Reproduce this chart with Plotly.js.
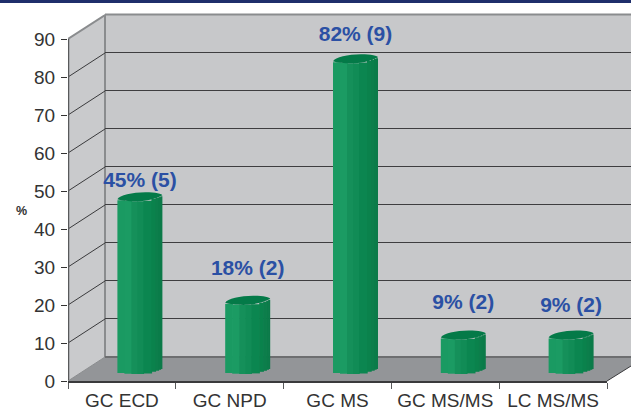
<!DOCTYPE html>
<html>
<head>
<meta charset="utf-8">
<script src="https://cdn.plot.ly/plotly-3.0.1.min.js"></script>
<style>html,body{margin:0;padding:0;background:#fff;overflow:hidden}</style>
</head>
<body>
<div id="chart" style="width:631px;height:411px"></div>
<script>
// Data
const categories = ['GC ECD', 'GC NPD', 'GC MS', 'GC MS/MS', 'LC MS/MS'];
const percentValues = [45.45, 18.2, 81.8, 9.1, 9.1];
const dataLabels = ['45% (5)', '18% (2)', '82% (9)', '9% (2)', '9% (2)'];
const labelHeights = [50.5, 27.4, 89, 18.4, 17.7];
const yTicks = [0, 10, 20, 30, 40, 50, 60, 70, 80, 90];

// Cylinder look: strip widths (px), colours and rise of each strip (px)
const stripWidths = [7, 7, 6, 6, 8, 4, 3, 2, 2];
const stripColors = ['#1a9a62', '#1b9b63', '#15905a', '#118c56', '#0b8650', '#0a824c', '#0c7e4b', '#0a7c49', '#0c7a49'];
const stripRise = [1.0, 0.3, 0, 0, 0.6, 2.2, 3.2, 4.2, 5];

const W = 631, H = 411;
const PX_PER_UNIT = 3.8, CAT_W = 107.8, BAR_W = 45;
const fx = p => p / W, fy = p => 1 - p / H;
const domX = (a, b) => [fx(a), fx(b)];
const domY = (bottom, top) => [fy(bottom), fy(top)];
const catPos = categories.map((_, i) => i);

const traces = [];
// Invisible trace so the back wall subplot draws its grid
traces.push({
  type: 'scatter', mode: 'markers', xaxis: 'x', yaxis: 'y', showlegend: false, hoverinfo: 'skip',
  x: [0.5], y: [45], marker: {opacity: 0}
});
// side wall grid lines, running from the front axis back to the wall
const depthRise = 24 / PX_PER_UNIT;
yTicks.slice(1).forEach(v => traces.push({
  type: 'scatter', mode: 'lines', xaxis: 'x2', yaxis: 'y2', hoverinfo: 'skip', showlegend: false,
  x: [0, 1], y: [v, v + depthRise],
  line: {color: v === 90 ? '#8a8c8e' : '#3a3a3c', width: v === 90 ? 2 : 1}
}));
traces.push({
  type: 'scatter', mode: 'lines', xaxis: 'x2', yaxis: 'y2', hoverinfo: 'skip', showlegend: false,
  x: [0, 0], y: [0, 90], cliponaxis: false, line: {color: '#58595b', width: 2.5}
});
traces.push({
  type: 'scatter', mode: 'lines', xaxis: 'x2', yaxis: 'y2', hoverinfo: 'skip', showlegend: false,
  x: [0, 1], y: [0, depthRise], line: {color: '#8a8c8e', width: 1}
});

// Bars, one trace per vertical strip of the cylinder
let offsetPx = 0;
stripWidths.forEach((w, k) => {
  const overlap = k < stripWidths.length - 1 ? 0.7 : 0;
  traces.push({
    type: 'bar', xaxis: 'x3', yaxis: 'y3', showlegend: false, hoverinfo: 'skip',
    x: catPos, y: percentValues,
    base: percentValues.map(() => stripRise[k] / PX_PER_UNIT),
    width: (w + overlap) / CAT_W,
    offset: (offsetPx - BAR_W / 2) / CAT_W,
    marker: {color: stripColors[k], line: {width: 0}}
  });
  offsetPx += w;
});

// Data labels
traces.push({
  type: 'scatter', mode: 'text', xaxis: 'x3', yaxis: 'y3', showlegend: false, hoverinfo: 'skip',
  x: catPos, y: labelHeights, text: dataLabels, textposition: 'middle center', cliponaxis: false,
  textfont: {family: '"Liberation Sans", Arial, sans-serif', size: 21, color: '#2b50a4', weight: 700}
});

// Invisible trace so the category axis carries its labels
traces.push({
  type: 'scatter', mode: 'markers', xaxis: 'x4', yaxis: 'y4', showlegend: false, hoverinfo: 'skip',
  x: categories, y: percentValues, marker: {opacity: 0}
});

// Wall and floor panels
const poly = (pts, fill) => ({
  type: 'path', xref: 'paper', yref: 'paper', layer: 'below',
  path: pts.map((p, i) => (i ? 'L' : 'M') + fx(p[0]) + ',' + fy(p[1])).join(' ') + ' Z',
  fillcolor: fill, line: {width: 0}
});
const seg = (a, b, color, width) => ({
  type: 'line', xref: 'paper', yref: 'paper', layer: 'below',
  x0: fx(a[0]), y0: fy(a[1]), x1: fx(b[0]), y1: fy(b[1]), line: {color, width}
});
const shapes = [
  poly([[105, 14.5], [631, 14.5], [631, 357], [105, 357]], '#c7c8ca'),
  poly([[68, 39], [105, 14.5], [105, 357], [68, 381]], '#c9cacc'),
  poly([[68, 381], [105, 357], [631, 357], [631, 366], [607, 381]], '#939598'),
  seg([0, 1.5], [631, 1.5], '#1f2f6b', 3),
  seg([105, 14.5], [631, 14.5], '#8a8c8e', 2),
  seg([105, 14.5], [105, 357], '#8a8c8e', 2),
  seg([105, 357], [631, 357], '#6d6e70', 2),
  seg([607, 381], [631, 366], '#3a3a3c', 1)
];
// Cylinder top caps, anchored on each bar's value through the bar axes
percentValues.forEach((v, i) => {
  const X = p => i - BAR_W / 2 / CAT_W + p / CAT_W;
  const Y = p => v + p / PX_PER_UNIT;
  shapes.push({
    type: 'path', xref: 'x3', yref: 'y3', layer: 'above', line: {width: 0}, fillcolor: '#047a48',
    path: `M${X(0)},${Y(2)} C${X(5)},${Y(0.4)} ${X(14)},${Y(-0.3)} ${X(22)},${Y(0)} ` +
          `C${X(30)},${Y(0.3)} ${X(40)},${Y(3)} ${X(45)},${Y(6)} ` +
          `C${X(45)},${Y(7.5)} ${X(38)},${Y(9)} ${X(28)},${Y(9)} ` +
          `C${X(15)},${Y(9)} ${X(2)},${Y(6)} ${X(0)},${Y(2)} Z`
  });
});

const tickFont = {family: '"Liberation Sans", Arial, sans-serif', size: 19, color: '#333333'};
const hidden = {showticklabels: false, ticks: '', showline: false, showgrid: false, zeroline: false, fixedrange: true};

const layout = {
  width: W, height: H,
  margin: {l: 0, r: 0, t: 0, b: 0},
  paper_bgcolor: '#ffffff', plot_bgcolor: 'rgba(0,0,0,0)',
  showlegend: false, barmode: 'overlay',
  shapes,
  // back wall with its own grid
  xaxis: {...hidden, domain: domX(105, 631), range: [0, 1], anchor: 'y'},
  yaxis: {...hidden, domain: domY(357, 14.5), range: [0, 90], anchor: 'x',
          showgrid: true, tickmode: 'array', tickvals: yTicks.slice(1, 9), gridcolor: '#3e3e40', gridwidth: 1},
  // side wall
  xaxis2: {...hidden, domain: domX(68, 105), range: [0, 1], anchor: 'y2'},
  yaxis2: {...hidden, domain: domY(381, 14.5), range: [0, 366.5 / PX_PER_UNIT], anchor: 'x2'},
  // plane of the bars
  xaxis3: {...hidden, domain: domX(86, 625), range: [-0.5, 4.5], anchor: 'y3', type: 'linear'},
  yaxis3: {...hidden, domain: domY(374, 32), range: [0, 90], anchor: 'x3'},
  // front axes with the labels
  xaxis4: {domain: domX(68, 607), anchor: 'y4', type: 'category', categoryorder: 'array', categoryarray: categories,
           range: [-0.5, 4.5], showgrid: false, zeroline: false, fixedrange: true, showline: true,
           linecolor: '#3a3a3c', linewidth: 1.5, ticks: 'outside', tickson: 'boundaries', ticklen: 6,
           tickcolor: '#58595b', tickwidth: 1, tickfont: tickFont, ticklabelstandoff: 2},
  yaxis4: {domain: domY(381, 14.5), anchor: 'x4', range: [0, 366.5 / PX_PER_UNIT], tickmode: 'array',
           tickvals: yTicks, ticktext: yTicks.map(String), showgrid: false, zeroline: false, fixedrange: true,
           showline: false, ticks: 'outside', ticklen: 6, tickcolor: '#333333', tickwidth: 1, tickfont: tickFont,
           ticklabelstandoff: 2},
  annotations: [{
    xref: 'paper', yref: 'paper', x: fx(21), y: fy(211), xanchor: 'center', yanchor: 'middle',
    text: '%', showarrow: false,
    font: {family: '"Liberation Sans", Arial, sans-serif', size: 12.5, color: '#333333', weight: 700}
  }]
};

Plotly.newPlot('chart', traces, layout, {displayModeBar: false, staticPlot: true});
</script>
</body>
</html>
